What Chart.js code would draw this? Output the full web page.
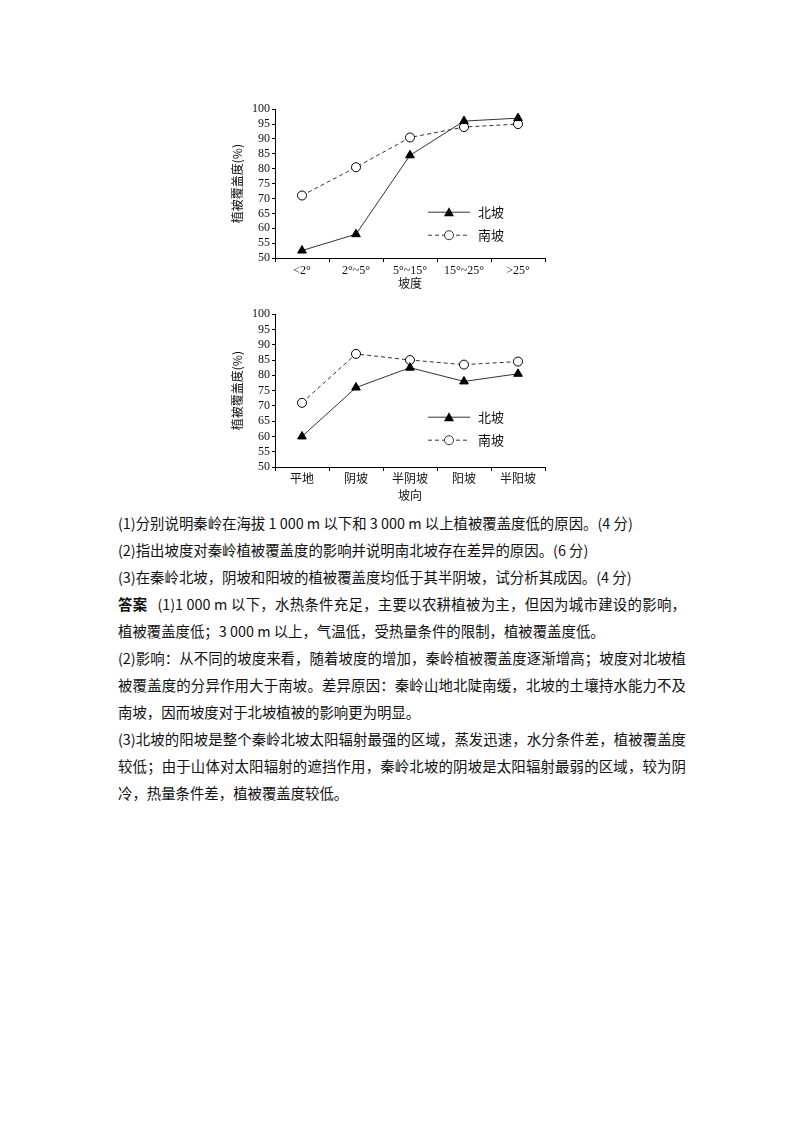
<!DOCTYPE html>
<html><head><meta charset="utf-8">
<script src="https://cdn.jsdelivr.net/npm/chart.js@4/dist/chart.umd.min.js"></script>
<style>
body{margin:0;width:800px;height:1132px;background:#fff;position:relative;}
.c{position:absolute;}
#txt{position:absolute;left:118px;top:509px;width:568px;font-size:14.4px;line-height:27px;color:#111;font-family:"Noto Sans CJK SC",sans-serif;text-align:justify;}
#txt p{margin:0;}
#txt b{margin-right:10px;}
</style></head><body>
<div class="c" style="left:230px;top:100px;width:330px;height:195px"><canvas id="c1"></canvas></div>
<div class="c" style="left:230px;top:305px;width:330px;height:202px"><canvas id="c2"></canvas></div>
<div id="txt">
<p>(1)分别说明秦岭在海拔 1 000 m 以下和 3 000 m 以上植被覆盖度低的原因。(4 分)</p>
<p>(2)指出坡度对秦岭植被覆盖度的影响并说明南北坡存在差异的原因。(6 分)</p>
<p>(3)在秦岭北坡，阴坡和阳坡的植被覆盖度均低于其半阴坡，试分析其成因。(4 分)</p>
<p><b>答案</b>(1)1 000 m 以下，水热条件充足，主要以农耕植被为主，但因为城市建设的影响，植被覆盖度低；3 000 m 以上，气温低，受热量条件的限制，植被覆盖度低。</p>
<p>(2)影响：从不同的坡度来看，随着坡度的增加，秦岭植被覆盖度逐渐增高；坡度对北坡植被覆盖度的分异作用大于南坡。差异原因：秦岭山地北陡南缓，北坡的土壤持水能力不及南坡，因而坡度对于北坡植被的影响更为明显。</p>
<p>(3)北坡的阳坡是整个秦岭北坡太阳辐射最强的区域，蒸发迅速，水分条件差，植被覆盖度较低；由于山体对太阳辐射的遮挡作用，秦岭北坡的阴坡是太阳辐射最弱的区域，较为阴冷，热量条件差，植被覆盖度较低。</p>
</div>
<script>
const slopeCats = ['<2°','2°~5°','5°~15°','15°~25°','>25°'];
const slopeNorth = [52.5, 58, 84.5, 96, 97];
const slopeSouth = [71, 80.5, 90.5, 94, 95];
const aspectCats = ['平地','阴坡','半阴坡','阳坡','半阳坡'];
const aspectNorth = [60, 76, 82.5, 78, 80.5];
const aspectSouth = [71, 87, 85, 83.5, 84.5];
const yTicks = [50,55,60,65,70,75,80,85,90,95,100];
const seriesNames = ['北坡','南坡'];

const F = "'Liberation Serif','Noto Sans CJK SC',serif";
const legendPlugin = {
  id:'lg',
  afterDraw(ch){
    const c=ch.ctx, a=ch.chartArea;
    const x0=a.left+153, x1=a.left+195, xm=(x0+x1)/2;
    const ys=[a.top+103, a.top+126];
    c.save();
    ys.forEach((y,i)=>{
      c.strokeStyle='#333';c.lineWidth=1;
      c.setLineDash(i?[4,3]:[]);
      c.beginPath();c.moveTo(x0,y);c.lineTo(x1,y);c.stroke();
      c.setLineDash([]);
      if(i===0){c.fillStyle='#000';c.beginPath();c.moveTo(xm,y-5);c.lineTo(xm+5,y+4);c.lineTo(xm-5,y+4);c.closePath();c.fill();}
      else{c.fillStyle='#fff';c.beginPath();c.arc(xm,y,4.5,0,Math.PI*2);c.fill();c.stroke();}
      c.fillStyle='#111';c.font="13px 'Noto Sans CJK SC'";c.textBaseline='middle';
      c.fillText(seriesNames[i],x1+8,y);
    });
    c.restore();
  }
};
function make(id,cats,n,s,xTitle,xh){
  new Chart(document.getElementById(id),{
    type:'line',
    data:{labels:cats,datasets:[
      {label:seriesNames[0],data:n,borderColor:'#333',borderWidth:1,pointStyle:'triangle',pointRadius:5,pointBackgroundColor:'#000',pointBorderColor:'#000'},
      {label:seriesNames[1],data:s,borderColor:'#333',borderWidth:1,borderDash:[4,3],pointStyle:'circle',pointRadius:4.5,pointBackgroundColor:'#fff',pointBorderColor:'#000'}
    ]},
    options:{animation:false,responsive:true,maintainAspectRatio:false,
      layout:{padding:{top:7,right:15,left:0,bottom:0}},
      plugins:{legend:{display:false},tooltip:{enabled:false}},
      scales:{
        x:{offset:true,grid:{display:true,drawOnChartArea:false,offset:true,tickLength:4,color:'#000'},border:{color:'#000'},
          ticks:{color:'#111',font:{family:F,size:12},padding:2,maxRotation:0},
          title:{display:true,text:xTitle,color:'#111',font:{family:"'Noto Sans CJK SC'",size:12},padding:{top:0}},
          afterFit(sc){sc.height=xh;}},
        y:{min:50,max:100,afterBuildTicks(sc){sc.ticks=yTicks.map(v=>({value:v}));},
          grid:{drawOnChartArea:false,tickLength:3,color:'#000'},border:{color:'#000'},
          ticks:{color:'#111',font:{family:F,size:12},padding:2,autoSkip:false},
          title:{display:true,text:'植被覆盖度(%)',color:'#111',font:{family:"'Noto Sans CJK SC'",size:12},padding:0},
          afterFit(sc){sc.width=45;}}
      }},
    plugins:[legendPlugin]
  });
}
make('c1',slopeCats,slopeNorth,slopeSouth,'坡度',37);
make('c2',aspectCats,aspectNorth,aspectSouth,'坡向',40);
</script>
</body></html>
